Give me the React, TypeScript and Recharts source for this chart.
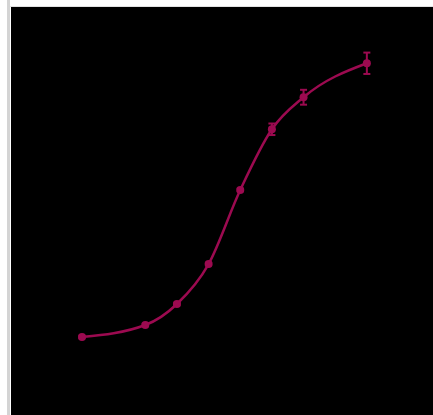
import React from "react";
import { LineChart, Line, XAxis, YAxis, ErrorBar } from "recharts";

// log2 dilution steps and measured signal (OD) with SD
const steps = [0, 2, 3, 4, 5, 6, 7, 9];
const signal = [0.65, 0.75, 0.925, 1.258, 1.875, 2.381, 2.648, 2.931];
const sd = [0.01, 0.01, 0.01, 0.01, 0.01, 0.048, 0.062, 0.089];

const COLOR = "#9c0a50";

const data = steps.map((x, i) => ({ x, y: signal[i], err: sd[i] }));

export default function App() {
  return (
    <div
      style={{
        position: "absolute",
        left: 0,
        top: 0,
        width: 433,
        height: 415,
        background: "#fff",
        overflow: "hidden",
      }}
    >
      <div style={{ position: "absolute", left: 7, top: 0, width: 3, height: 415, background: "#d4d4d4" }} />
      <div style={{ position: "absolute", left: 10, top: 6, width: 423, height: 1, background: "#e2e2e2" }} />
      <div style={{ position: "absolute", left: 11, top: 7, width: 422, height: 408, background: "#000" }}>
        <LineChart width={422} height={408} data={data} margin={{ top: 0, right: 0, bottom: 0, left: 0 }}>
          <XAxis dataKey="x" type="number" domain={[-2.243, 11.09]} hide />
          <YAxis type="number" domain={[0, 3.4]} hide />
          <Line
            dataKey="y"
            type="monotone"
            stroke={COLOR}
            strokeWidth={2.5}
            dot={{ r: 4, fill: COLOR, stroke: COLOR, strokeWidth: 0 }}
            activeDot={false}
            isAnimationActive={false}
          >
            <ErrorBar dataKey="err" direction="y" width={3.5} stroke={COLOR} strokeWidth={2} />
          </Line>
        </LineChart>
      </div>
    </div>
  );
}
